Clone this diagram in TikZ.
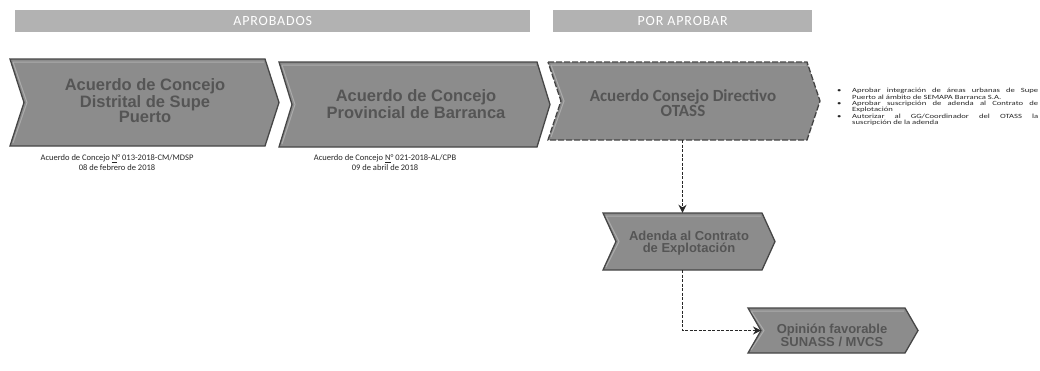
\documentclass[tikz,border=0pt]{standalone}
\usepackage{fontspec}
\setmainfont{Carlito}
\newfontfamily\chevfont{Liberation Sans}
\newfontfamily\notefont{Carlito}[FakeStretch=1.35]
\newfontfamily\hdrfont{Carlito}[LetterSpace=6]
\usetikzlibrary{fit,arrows.meta}

\definecolor{chevfill}{RGB}{140,140,140}
\definecolor{chevline}{RGB}{70,70,70}
\definecolor{chevrim}{RGB}{185,185,185}
\definecolor{chevtext}{RGB}{85,85,85}
\definecolor{hdrfill}{RGB}{178,178,178}
\definecolor{conncol}{RGB}{40,40,40}

\tikzset{
  chevbox/.style={fill=chevfill, draw=chevline, line width=1.3pt, line join=miter},
  chevdash/.style={dash pattern=on 6pt off 2pt},
  chevinner/.style={draw=chevrim, line width=1pt, opacity=0.7},
  chevlabel/.style={text=chevtext, align=center, inner sep=0pt},
  hdr/.style={fill=hdrfill, draw=none, inner sep=0pt, anchor=north west, minimum height=22pt},
  hdrtext/.style={text=white, font=\hdrfont\fontsize{14}{14}\selectfont},
  caption/.style={align=center, font=\fontsize{8.5}{10}\selectfont, text=black!85, inner sep=0pt},
  notes/.style={align=justify, font=\notefont\fontsize{6.4}{6.4}\selectfont, text=black!85, inner sep=0pt, anchor=north west, text width=201pt},
  conn/.style={draw=conncol, line width=1.4pt, dash pattern=on 3pt off 1.5pt, -{Stealth[length=8pt,width=8pt]}},
}

% #1 options, #2 name, #3 L, #4 T, #5 R, #6 B, #7 point depth
\newcommand{\mychevron}[7][]{%
  \draw[chevbox,#1] (#3,#4) -- (#5,#4) -- ({#5+#7},{(#4+#6)/2}) -- (#5,#6) -- (#3,#6) -- ({#3+#7},{(#4+#6)/2}) -- cycle;
  \draw[chevinner] ({#3+3},{#4+3}) -- ({#5-1},{#4+3}) ({#3+3},{#4+3}) -- ({#3+#7+3},{(#4+#6)/2}) -- ({#3+3},{#6-3});
  \coordinate (#2-notch) at ({#3+#7},{(#4+#6)/2});
  \coordinate (#2-nw) at (#3,#4);
  \coordinate (#2-se) at (#5,#6);
  \node[fit=(#2-nw)(#2-se), inner sep=0pt] (#2) {};
}
\newcommand{\bitem}{\par\hangindent=15pt\hangafter=0\noindent\llap{\makebox[15pt][l]{\textbullet}}}

\begin{document}
\begin{tikzpicture}[x=1pt,y=-1pt]
\useasboundingbox (0,0) rectangle (1040,370);

% headers
\node[hdr, minimum width=515pt] (h1) at (15,10) {};
\node[hdrtext] (h1t) at (h1) {APROBADOS};
\node[hdr, minimum width=259pt] (h2) at (553,10) {};
\node[hdrtext] (h2t) at (h2) {POR APROBAR};

% chevrons
\mychevron{c1}{10}{59}{265}{146}{14}
\mychevron{c2}{279}{62}{537}{147}{13}
\mychevron[chevdash]{c3}{548}{62}{807}{140}{13}
\mychevron{ad}{603}{213}{762}{270}{13}
\mychevron{op}{748}{308}{905}{353}{13}

\node[chevlabel, font=\chevfont\bfseries\fontsize{16.5}{14}\selectfont] (c1t) at (145,101) {Acuerdo de Concejo\\Distrital de Supe\\Puerto};
\node[chevlabel, font=\chevfont\bfseries\fontsize{16.5}{14}\selectfont] (c2t) at (416,104) {Acuerdo de Concejo\\Provincial de Barranca};
\node[chevlabel, font=\bfseries\fontsize{17}{15}\selectfont] (c3t) at (683,103) {Acuerdo Consejo Directivo\\OTASS};
\node[chevlabel, font=\chevfont\bfseries\fontsize{13}{12.5}\selectfont] (adt) at (689,243) {Adenda al Contrato\\de Explotación};
\node[chevlabel, font=\chevfont\bfseries\fontsize{13}{12}\selectfont] (opt) at (832,335) {Opinión favorable\\SUNASS / MVCS};

% captions
\node[caption] (cap1) at (117,163) {Acuerdo de Concejo \underline{N}° 013-2018-CM/MDSP\\08 de febrero de 2018};
\node[caption] (cap2) at (385,163) {Acuerdo de Concejo \underline{N}° 021-2018-AL/CPB\\09 de abril de 2018};

% notes
\node[notes] (notes) at (837,86) {%
\bitem Aprobar integración de áreas urbanas de Supe\linebreak Puerto al ámbito de SEMAPA Barranca S.A.
\bitem Aprobar suscripción de adenda al Contrato de\linebreak Explotación
\bitem Autorizar al GG/Coordinador del OTASS la\linebreak suscripción de la adenda\par};

% connectors
\draw[conn] (ad.north |- c3.south) -- (ad.north);
\draw[conn] (ad.south) |- (op-notch);
\end{tikzpicture}
\end{document}
